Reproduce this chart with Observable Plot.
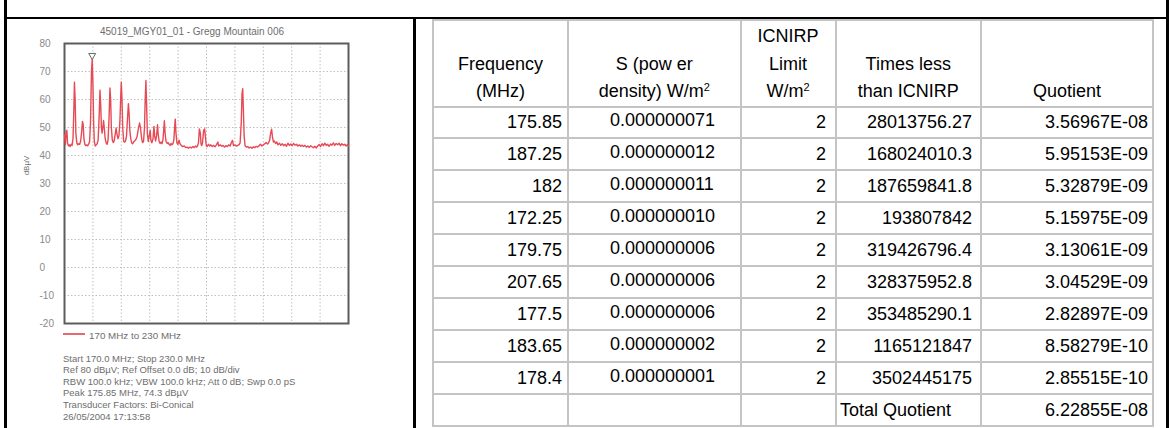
<!DOCTYPE html>
<html><head><meta charset="utf-8">
<script src="https://cdn.jsdelivr.net/npm/d3@7"></script>
<script src="https://cdn.jsdelivr.net/npm/@observablehq/plot@0.6"></script>
<style>
html,body{margin:0;padding:0;background:#fff;width:1171px;height:428px;overflow:hidden;position:relative;font-family:"Liberation Sans",Arial,sans-serif;}
.abs{position:absolute;}
.bl{position:absolute;background:#000;}
.gl{position:absolute;background:#c4c4c4;}
.t{position:absolute;font-size:18px;color:#000;white-space:nowrap;line-height:20px;height:20px;}
.t sup{font-size:11px;line-height:0;vertical-align:6px;}
.c{position:absolute;font-size:9.5px;color:#6e6e6e;white-space:nowrap;line-height:11px;}
</style></head><body>
<div id="chart" class="abs" style="left:0;top:0"></div>
<div id="notes"></div>
<div id="table"></div>
<div id="borders"></div>
<script>
// ---------- spectrum trace ----------
const freqMHz = [170.0,170.2,170.35,170.5,170.65,170.8,171.0,171.2,171.4,171.6,171.8,172.0,172.1,172.25,172.4,172.6,172.8,173.0,173.2,173.4,173.6,173.8,173.95,174.1,174.3,174.5,174.7,174.9,175.1,175.3,175.5,175.7,175.85,176.0,176.15,176.3,176.5,176.7,176.9,177.1,177.3,177.5,177.65,177.8,177.95,178.1,178.25,178.4,178.6,178.8,179.0,179.2,179.4,179.6,179.75,179.9,180.1,180.3,180.5,180.75,180.9,181.05,181.3,181.5,181.7,181.9,182.0,182.15,182.3,182.5,182.7,182.9,183.1,183.3,183.5,183.65,183.8,184.0,184.2,184.4,184.6,184.8,185.0,185.3,185.6,185.85,186.05,186.3,186.5,186.7,186.9,187.05,187.2,187.35,187.5,187.7,187.9,188.1,188.25,188.45,188.7,188.9,189.05,189.25,189.45,189.65,189.8,190.0,190.2,190.4,190.6,190.8,191.0,191.1,191.25,191.45,191.7,191.9,192.1,192.3,192.5,192.7,192.9,193.1,193.3,193.4,193.55,193.75,193.95,194.2,194.4,194.7,195.0,195.3,195.6,195.9,196.2,196.5,196.8,197.1,197.4,197.7,197.9,198.1,198.3,198.5,198.7,198.85,199.0,199.15,199.4,199.6,199.75,199.95,200.15,200.4,200.7,200.9,201.2,201.5,201.8,202.1,202.4,202.6,202.9,203.2,203.5,203.8,204.1,204.4,204.7,205.0,205.3,205.5,205.7,206.0,206.3,206.6,206.9,207.1,207.35,207.5,207.65,207.8,207.95,208.15,208.4,208.7,209.0,209.3,209.6,209.9,210.2,210.5,210.8,211.1,211.4,211.7,212.0,212.3,212.6,212.9,213.1,213.35,213.55,213.75,213.95,214.15,214.35,214.6,214.85,215.1,215.4,215.7,216.0,216.3,216.6,216.9,217.2,217.5,217.8,218.1,218.4,218.7,219.0,219.3,219.6,219.9,220.2,220.5,220.8,221.1,221.4,221.7,222.0,222.3,222.6,222.9,223.2,223.5,223.8,224.1,224.4,224.7,225.0,225.3,225.6,225.9,226.2,226.5,226.8,227.1,227.4,227.7,228.0,228.3,228.6,228.9,229.2,229.5,229.8,230.0];
const levelDbuv = [47.5,44,48.5,49,44.5,43.5,43.8,43.2,44.0,43.6,46,58,66.2,60,48,44.5,43.8,44.2,44,45,48,52.2,51,46,44,43.5,43.8,43.5,44,45,52,70,74.3,66,52,45,43.4,43.8,44.2,45.5,53,63.3,58,50,48,50,52.5,50,46,44.5,44,45.5,53,64.1,60,50,45.5,44.6,45.2,48,49.8,48,46,47,52,62,66.2,60,50,45,44.8,45.2,47,53,58.5,55,49,46,44.5,44.2,44.8,45.2,45.5,46.5,49.5,51.6,50,46,44.6,45,50,60,66.8,58,48,45,47,49,45.5,44.5,46,50.4,47,45.2,47,51,47.5,45,44.3,44.8,44.2,45.6,50,52.4,48,45,44.3,44.6,44,43.6,44.3,43.8,44.2,45.5,51,53,48,44.5,44,45.5,44.2,43.5,43.2,43.4,42.8,43.0,42.6,43.0,42.7,43.2,42.8,43.4,43.0,43.4,44.5,49.5,48,44,43.5,44.5,49,49.5,47,43.5,43.2,44.0,43.4,43.8,43.2,43.6,43.1,43.8,44.8,43.4,43.8,43.3,43.6,43.0,43.5,43.2,43.8,43.4,44.8,45.4,43.5,43.8,43.3,43.6,43.9,44.5,52,62,63.9,56,47,43.5,43.0,43.2,42.7,43.0,42.6,43.1,42.8,43.3,43.0,43.5,44.0,43.4,43.8,44.2,44.6,44.1,44.5,45.5,48,49.4,46.5,44.8,45.2,44.3,44.8,43.8,44.4,43.6,44.2,43.5,44.0,43.3,44.4,43.6,44.1,43.5,44.3,43.7,44.0,43.4,43.8,43.3,43.7,43.2,43.6,43.0,43.4,42.9,43.5,43.1,42.8,43.3,42.7,43.4,43.9,43.2,44.2,43.5,44.4,43.6,44.0,43.3,44.1,43.7,44.5,43.6,44.3,43.8,44.4,43.5,44.2,43.7,44.0,43.4,43.9,43.5];
const peakMarker = [{f: 175.85, level: 74.3}];
const xGridMHz = [176,182,188,194,200,206,212,218,224];
const yTicksDb = [80,70,60,50,40,30,20,10,0,-10,-20];

const chartTitle = "45019_MGY01_01 - Gregg Mountain 006";
const yLabel = "dBµV";
const legendLabel = "170 MHz to 230 MHz";
const infoLines = ["Start 170.0 MHz; Stop 230.0 MHz","Ref 80 dBµV; Ref Offset 0.0 dB; 10 dB/div","RBW 100.0 kHz; VBW 100.0 kHz; Att 0 dB; Swp 0.0 pS","Peak 175.85 MHz, 74.3 dBµV","Transducer Factors: Bi-Conical","26/05/2004 17:13:58"];

// ---------- table ----------
const tableHeaders = [["Frequency","(MHz)"],["S (pow er","density) W/m<sup>2</sup>"],["ICNIRP","Limit","W/m<sup>2</sup>"],["Times less","than ICNIRP"],["Quotient"]];
const frequencies = ["175.85","187.25","182","172.25","179.75","207.65","177.5","183.65","178.4"];
const powerDensity = ["0.000000071","0.000000012","0.000000011","0.000000010","0.000000006","0.000000006","0.000000006","0.000000002","0.000000001"];
const icnirpLimit = ["2","2","2","2","2","2","2","2","2"];
const timesLess = ["28013756.27","168024010.3","187659841.8","193807842","319426796.4","328375952.8","353485290.1","1165121847","3502445175"];
const quotients = ["3.56967E-08","5.95153E-09","5.32879E-09","5.15975E-09","3.13061E-09","3.04529E-09","2.82897E-09","8.58279E-10","2.85515E-10"];
const totalLabel = "Total Quotient";
const totalQuotient = "6.22855E-08";

// ---------- chart ----------
const trace = freqMHz.map((f, i) => ({f, level: levelDbuv[i]}));
const plot = Plot.plot({
  width: 415, height: 330,
  marginLeft: 64, marginRight: 67, marginTop: 43, marginBottom: 7,
  style: {background: "transparent", overflow: "visible", fontFamily: "Liberation Sans, Arial, sans-serif"},
  x: {domain: [170, 230], axis: null},
  y: {domain: [-20, 80]},
  marks: [
    Plot.gridX(xGridMHz, {stroke: "#c0c0c0", strokeOpacity: 1, strokeDasharray: "1.5,2"}),
    Plot.gridY(yTicksDb, {stroke: "#c0c0c0", strokeOpacity: 1, strokeDasharray: "1.5,2"}),
    Plot.frame({stroke: "#5c5c5c", strokeWidth: 2}),
    Plot.line(trace, {x: "f", y: "level", stroke: "#e64a55", strokeWidth: 1.4}),
    Plot.dot(peakMarker, {x: "f", y: "level", symbol: "triangle", rotate: 180, r: 2.6, stroke: "#666", fill: "white", strokeWidth: 1, dy: -4}),
    Plot.axisY(yTicksDb, {tickSize: 0, tickPadding: 0, textAnchor: "start", dx: -25, fontSize: 10, fill: "#8a8a8a", label: null, tickFormat: d => String(d)})
  ]
});
document.getElementById("chart").appendChild(plot);

const notes = document.getElementById("notes");
function addDiv(parent, cls, html, style) {
  const d = document.createElement("div");
  d.className = cls; d.innerHTML = html; Object.assign(d.style, style); parent.appendChild(d); return d;
}
addDiv(notes, "c", chartTitle, {left: "100px", top: "26px", fontSize: "10px"});
addDiv(notes, "c", yLabel, {left: "17px", top: "160px", fontSize: "8px", transform: "rotate(-90deg)", transformOrigin: "center"});
addDiv(notes, "abs", "", {left: "63px", top: "333px", width: "22px", height: "1.5px", background: "#e86a70"});
addDiv(notes, "c", legendLabel, {left: "89px", top: "330px", fontSize: "9.8px"});
infoLines.forEach((s, i) => addDiv(notes, "c", s, {left: "63px", top: (352.5 + i * 11.6) + "px"}));

// table geometry
const colEdges = [433, 568, 740.5, 835.5, 981, 1153];
const tableTop = 20, headBottom = 106.5, rowH = 31.95;
const tbl = document.getElementById("table");
const nRows = frequencies.length + 1;
const tableBottom = headBottom + nRows * rowH;
colEdges.forEach(x => addDiv(tbl, "gl", "", {left: (x - 1) + "px", top: tableTop + "px", width: "2px", height: (tableBottom - tableTop + 1) + "px"}));
[tableTop, headBottom].concat(d3.range(1, nRows + 1).map(i => headBottom + i * rowH)).forEach(y =>
  addDiv(tbl, "gl", "", {left: (colEdges[0] - 1) + "px", top: (y - 1) + "px", width: (colEdges[5] - colEdges[0] + 2) + "px", height: "2px"}));

// header text (bottom aligned, centred)
const headLineY = [36, 63.5, 91];
tableHeaders.forEach((lines, c) => {
  const x0 = colEdges[c], x1 = colEdges[c + 1];
  lines.forEach((s, k) => {
    const yc = headLineY[3 - lines.length + k];
    addDiv(tbl, "t", s, {left: x0 + "px", width: (x1 - x0) + "px", textAlign: "center", top: (yc - 10) + "px"});
  });
});
function rightText(s, xr, yc) { addDiv(tbl, "t", s, {left: (xr - 200) + "px", width: "200px", textAlign: "right", top: (yc - 10) + "px"}); }
frequencies.forEach((f, i) => {
  const yc = headBottom + (i + 1) * rowH - 16;
  rightText(f, 562, yc);
  addDiv(tbl, "t", powerDensity[i], {left: "610px", top: (yc - 12) + "px"});
  rightText(icnirpLimit[i], 826, yc);
  rightText(timesLess[i], 972, yc);
  rightText(quotients[i], 1148, yc);
});
{
  const yc = headBottom + nRows * rowH - 16;
  addDiv(tbl, "t", totalLabel, {left: "840px", top: (yc - 10) + "px"});
  rightText(totalQuotient, 1148, yc);
}

// outer black frame
const b = document.getElementById("borders");
addDiv(b, "bl", "", {left: "4px", top: "0px", width: "2.5px", height: "428px"});
addDiv(b, "bl", "", {left: "4px", top: "16.5px", width: "1165px", height: "2px"});
addDiv(b, "bl", "", {left: "413px", top: "17px", width: "3px", height: "411px"});
addDiv(b, "bl", "", {left: "1166px", top: "0px", width: "3px", height: "428px"});
</script>
</body></html>
